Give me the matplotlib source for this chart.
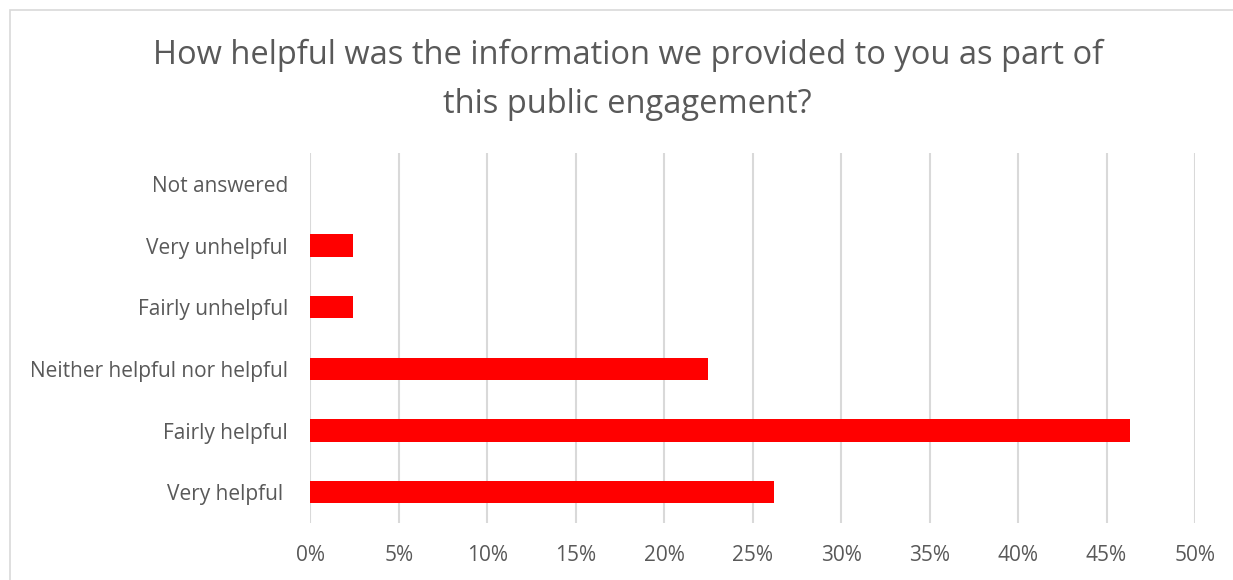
import matplotlib.pyplot as plt
from matplotlib.patches import Rectangle
from matplotlib.ticker import FuncFormatter, MultipleLocator

# Survey responses, share of respondents (%)
categories = ["Very helpful ", "Fairly helpful", "Neither helpful nor helpful",
              "Fairly unhelpful", "Very unhelpful", "Not answered"]
shares = [26.2, 46.3, 22.5, 2.4, 2.4, 0.0]

title = "How helpful was the information we provided to you as part of\nthis public engagement?"

plt.rcParams["font.family"] = ["Open Sans", "DejaVu Sans"]
text_color = "#595959"
grid_color = "#d9d9d9"

fig = plt.figure(figsize=(12.33, 5.8), dpi=100)
fig.patches.append(Rectangle((10 / 1233, -0.1), 1.2, 1 - 10 / 580 + 0.1,
                             transform=fig.transFigure, fill=False,
                             edgecolor=grid_color, linewidth=1.2))

ax = fig.add_axes([0.2517, 0.0983, 0.7175, 0.6377])
y = range(len(categories))
ax.barh(y, shares, height=0.36, color="#ff0000", zorder=3)

ax.set_xlim(0, 50)
ax.set_ylim(-0.5, len(categories) - 0.5)
ax.xaxis.set_major_locator(MultipleLocator(5))
ax.xaxis.set_major_formatter(FuncFormatter(lambda v, _: f"{v:.0f}%"))
ax.set_yticks(list(y))
ax.set_yticklabels(categories)

ax.grid(True, axis="x", color=grid_color, linewidth=1.5, zorder=0)
for spine in ax.spines.values():
    spine.set_visible(False)
ax.tick_params(axis="both", length=0, labelsize=15, labelcolor=text_color)
ax.tick_params(axis="x", pad=16)
ax.tick_params(axis="y", pad=16)

fig.text(0.509, 0.862, title, ha="center", va="center", fontsize=23.5,
         color=text_color, linespacing=1.62)

fig.savefig("out.png", dpi=100)
